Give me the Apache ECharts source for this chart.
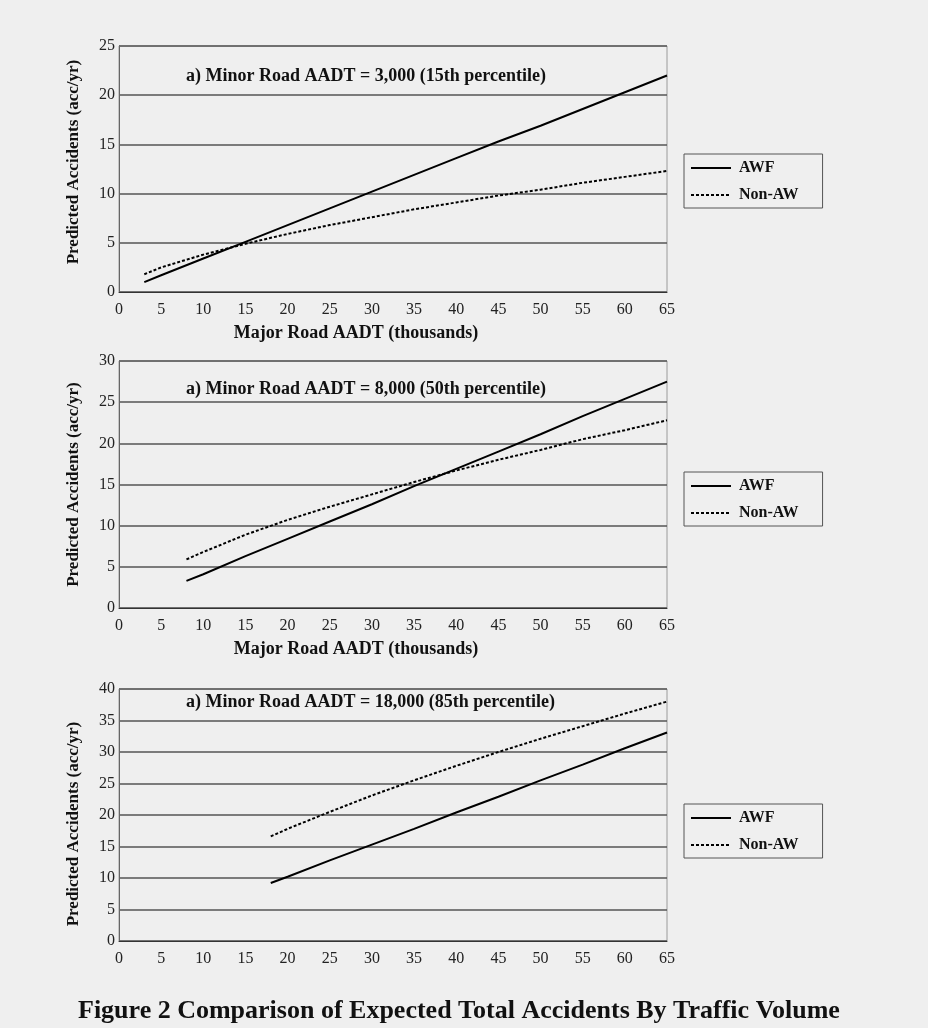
<!DOCTYPE html>
<html>
<head>
<meta charset="utf-8">
<script src="https://cdn.jsdelivr.net/npm/echarts@6/dist/echarts.min.js"></script>
<style>
  html, body { margin: 0; padding: 0; background: #efefef; }
  #main { width: 928px; height: 1028px; }
</style>
</head>
<body>
<div id="main"></div>
<script>
// ---- Data ----
const xTicks = [0, 5, 10, 15, 20, 25, 30, 35, 40, 45, 50, 55, 60, 65];

// Panel 1: Minor Road AADT = 3,000
const major1 = [3, 5, 10, 15, 20, 25, 30, 35, 40, 45, 50, 55, 60, 65];
const awf1 = [1.0, 1.7, 3.4, 5.1, 6.8, 8.5, 10.2, 11.9, 13.6, 15.3, 16.9, 18.6, 20.3, 22.0];
const nonaw1 = [1.8, 2.5, 3.8, 4.9, 5.9, 6.8, 7.6, 8.4, 9.1, 9.8, 10.4, 11.1, 11.7, 12.3];

// Panel 2: Minor Road AADT = 8,000
const major2 = [8, 10, 15, 20, 25, 30, 35, 40, 45, 50, 55, 60, 65];
const awf2 = [3.3, 4.1, 6.3, 8.4, 10.5, 12.6, 14.8, 16.9, 19.0, 21.1, 23.3, 25.4, 27.5];
const nonaw2 = [5.9, 6.8, 8.9, 10.7, 12.3, 13.8, 15.3, 16.7, 18.0, 19.2, 20.5, 21.6, 22.8];

// Panel 3: Minor Road AADT = 18,000
const major3 = [18, 20, 25, 30, 35, 40, 45, 50, 55, 60, 65];
const awf3 = [9.2, 10.2, 12.8, 15.3, 17.8, 20.4, 22.9, 25.5, 28.0, 30.6, 33.1];
const nonaw3 = [16.6, 17.8, 20.5, 23.1, 25.5, 27.8, 30.0, 32.1, 34.1, 36.1, 38.0];

const panelTitles = [
  'a) Minor Road AADT = 3,000 (15th percentile)',
  'a) Minor Road AADT = 8,000 (50th percentile)',
  'a) Minor Road AADT = 18,000 (85th percentile)'
];
const yMax = [25, 30, 40];
const seriesNames = ['AWF', 'Non-AW'];
const xName = 'Major Road AADT (thousands)';
const yName = 'Predicted Accidents (acc/yr)';
const caption = 'Figure 2 Comparison of Expected Total Accidents By Traffic Volume';

// ---- Layout ----
const FONT = '"Liberation Serif", "DejaVu Serif", serif';
const grids = [
  { left: 119, top: 46, width: 548, height: 246 },
  { left: 119, top: 361, width: 548, height: 247 },
  { left: 119, top: 689, width: 548, height: 252 }
];
const legendTops = [154, 472, 804];
const titleY = [77, 390, 703];
const showXName = [true, true, false];
const yNamePad = [[0, 0, 0, 14], [0, 0, 0, 0], [0, 18, 0, 0]];

const pairs = (xs, ys) => xs.map((x, i) => [x, ys[i]]);
const panels = [
  [major1, awf1, nonaw1],
  [major2, awf2, nonaw2],
  [major3, awf3, nonaw3]
];

const option = {
  backgroundColor: '#efefef',
  animation: false,
  color: ['#000', '#000'],
  textStyle: { fontFamily: FONT },
  grid: grids.map(g => Object.assign({
    show: true, borderColor: '#9a9a9a', borderWidth: 1, backgroundColor: 'transparent'
  }, g)),
  xAxis: grids.map((g, i) => ({
    type: 'value', gridIndex: i, min: 0, max: 65, interval: 5,
    name: showXName[i] ? xName : '',
    nameLocation: 'middle', nameGap: 32,
    nameTextStyle: { fontFamily: FONT, fontWeight: 'bold', fontSize: 18, color: '#111', padding: [0, 74, 0, 0] },
    axisLine: { show: true, onZero: false, lineStyle: { color: '#333', width: 1 } },
    axisTick: { show: false },
    axisLabel: { fontFamily: FONT, fontSize: 16, color: '#222', margin: 10,
      formatter: v => xTicks.includes(v) ? String(v) : '' },
    splitLine: { show: false }
  })),
  yAxis: grids.map((g, i) => ({
    type: 'value', gridIndex: i, min: 0, max: yMax[i], interval: 5,
    name: yName, nameLocation: 'middle', nameGap: 37, nameRotate: 90,
    nameTextStyle: { fontFamily: FONT, fontWeight: 'bold', fontSize: 17, color: '#111', padding: yNamePad[i] },
    axisLine: { show: true, lineStyle: { color: '#666', width: 1 } },
    axisTick: { show: false },
    axisLabel: { fontFamily: FONT, fontSize: 16, color: '#222', margin: 4 },
    splitLine: { show: true, lineStyle: { color: '#555', width: 1.5 } }
  })),
  legend: legendTops.map(t => ({
    data: seriesNames,
    orient: 'vertical', left: 684, top: t,
    itemWidth: 40, itemHeight: 14, itemGap: 11,
    padding: [6, 24, 5, 6],
    borderColor: '#555', borderWidth: 1,
    backgroundColor: '#efefef',
    selectedMode: false,
    itemStyle: { opacity: 0 },
    textStyle: { fontFamily: FONT, fontWeight: 'bold', fontSize: 16, color: '#111', padding: [0, 0, 0, 3] }
  })),
  series: [],
  graphic: []
};

panels.forEach((p, i) => {
  option.series.push({
    name: 'AWF', type: 'line', xAxisIndex: i, yAxisIndex: i,
    data: pairs(p[0], p[1]), showSymbol: false, symbol: 'none',
    itemStyle: { color: '#000' },
    lineStyle: { color: '#000', width: 2, type: 'solid' }
  });
  option.series.push({
    name: 'Non-AW', type: 'line', xAxisIndex: i, yAxisIndex: i,
    data: pairs(p[0], p[2]), showSymbol: false, symbol: 'none',
    itemStyle: { color: '#000' },
    lineStyle: { color: '#000', width: 2, type: [3, 2] }
  });
  option.graphic.push({
    type: 'text', left: 186, top: titleY[i] - 10,
    style: { text: panelTitles[i], font: 'bold 18px ' + FONT, fill: '#111' }
  });
});

option.graphic.push({
  type: 'text', left: 78, top: 998,
  style: { text: caption, font: 'bold 26px ' + FONT, fill: '#111' }
});

const chart = echarts.init(document.getElementById('main'), null, { renderer: 'canvas' });
chart.setOption(option);
</script>
</body>
</html>
